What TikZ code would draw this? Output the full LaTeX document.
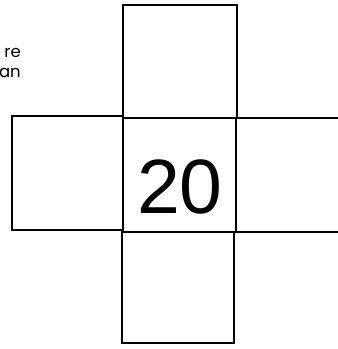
\documentclass[tikz,border=0pt]{standalone}
\usepackage{fontspec}
\setmainfont{Liberation Sans}
\newfontfamily\smallfont{Poppins}
\begin{document}
\begin{tikzpicture}[x=1pt,y=-1pt,
  cell/.style={draw=black,line width=1.7pt,line join=miter},
  lbl/.style={font=\smallfont\fontsize{16.5}{18}\selectfont,inner sep=0pt,anchor=base east}]
\useasboundingbox (0,0) rectangle (338,349);
\clip (0,0) rectangle (338,349);
\fill[white] (0,0) rectangle (338,349);
\draw[cell] (123,5) rectangle (237,118);
\draw[cell] (12,116) rectangle (123,230);
\draw[cell] (236,118) rectangle (350,232);
\draw[cell] (122,232) rectangle (234,343);
\draw[cell] (123,118) rectangle (236,232);
\node[lbl] (t1) at (21,57) {re};
\node[lbl] (t2) at (21,77) {an};
\node[font=\fontsize{77}{77}\selectfont,inner sep=0pt,anchor=base] (num) at (180,213) {20};
\end{tikzpicture}
\end{document}
